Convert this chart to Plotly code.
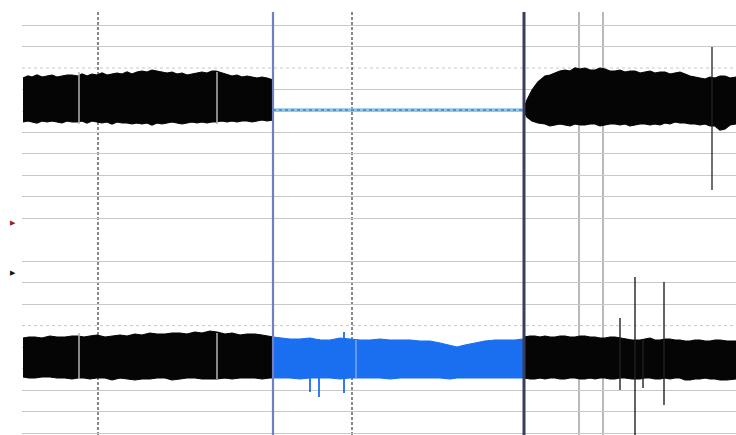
import plotly.graph_objects as go

# ---- time axis (s) and two-channel trace envelopes (amplitude units) ----
# Channel 1 (upper trace), pre-segment
c1_pre_t = [0.1, 0.6, 1.0, 1.5, 2.0, 2.5, 3.0, 3.5, 4.0, 4.5, 5.0, 5.6, 6.0, 6.5, 7.0, 7.5,
            8.0, 8.5, 9.0, 9.5, 10.0, 10.5, 11.0, 11.5, 12.0, 12.5, 13.0, 13.5, 14.0, 14.5,
            15.0, 15.5, 16.0, 16.5, 17.0, 17.5, 18.0, 18.5, 19.0, 19.4, 20.0, 20.5, 21.0,
            21.5, 22.0, 22.5, 23.0, 23.5, 24.0, 24.5, 25.1]
c1_pre_hi = [355, 357, 356, 358, 356, 357, 358, 356, 357, 358, 358, 357, 359, 357, 359, 358,
             360, 358, 359, 360, 359, 361, 359, 361, 362, 361, 363, 362, 361, 360,
             361, 359, 360, 358, 359, 360, 361, 360, 362, 362, 360, 358, 357,
             358, 356, 357, 356, 355, 356, 355, 353]
c1_pre_lo = [311, 312, 311, 310, 312, 311, 312, 311, 310, 312, 311, 311, 312, 310, 312, 311,
             310, 311, 309, 311, 310, 310, 309, 310, 309, 310, 308, 310, 309, 310,
             311, 310, 309, 310, 311, 310, 311, 310, 311, 311, 312, 311, 312,
             311, 312, 312, 311, 312, 313, 312, 313]

# Channel 1 flat (suppressed) segment
c1_mid_t = [25.1, 50.2]
c1_mid_v = [323, 323]

# Channel 1 post-segment
c1_post_t = [50.2, 50.5, 51.0, 51.6, 52.3, 52.8, 53.3, 53.8, 54.3, 54.8, 55.3, 55.8, 56.3,
             56.8, 57.3, 57.8, 58.3, 58.8, 59.3, 59.8, 60.3, 60.8, 61.3, 61.8, 62.3, 62.8,
             63.3, 63.8, 64.3, 64.8, 65.3, 65.8, 66.3, 66.8, 67.3, 67.8, 68.3, 68.8, 69.3,
             69.8, 70.3, 70.8, 71.4]
c1_post_hi = [325, 333, 343, 351, 357, 358, 360, 362, 363, 362, 365, 364, 365,
              363, 363, 365, 364, 362, 362, 363, 361, 362, 362, 360, 361, 362,
              360, 361, 361, 359, 360, 361, 359, 357, 356, 355, 354, 356, 355,
              357, 357, 355, 356]
c1_post_lo = [321, 316, 312, 310, 309, 307, 308, 309, 308, 307, 309, 308, 308,
              309, 309, 307, 308, 309, 309, 308, 309, 307, 308, 309, 309, 308,
              309, 308, 310, 309, 311, 310, 310, 309, 309, 308, 309, 307, 307,
              303, 304, 308, 309]

# Channel 2 (lower trace), pre-segment
c2_pre_t = [0.1, 0.7, 1.3, 2.0, 2.8, 3.5, 4.3, 5.0, 5.6, 6.2, 6.8, 7.5, 8.3, 9.0, 9.8,
            10.5, 11.3, 12.0, 12.8, 13.5, 14.3, 15.0, 15.8, 16.5, 17.3, 18.0, 18.8,
            19.5, 20.3, 21.0, 21.8, 22.5, 23.3, 24.0, 24.8, 25.1]
c2_pre_hi = [95, 96, 96, 95, 97, 96, 96, 97, 97, 96, 97, 98, 96, 97, 98,
             97, 99, 98, 100, 99, 99, 100, 100, 99, 101, 100, 102,
             101, 99, 100, 98, 99, 99, 98, 97, 96]
c2_pre_lo = [56, 55, 55, 56, 56, 55, 55, 54, 55, 55, 54, 55, 55, 53, 55,
             54, 53, 54, 54, 55, 55, 53, 54, 55, 55, 54, 54,
             54, 55, 54, 55, 55, 55, 54, 55, 55]

# Channel 2 highlighted segment
c2_mid_t = [25.1, 25.8, 26.8, 27.8, 28.8, 29.8, 30.8, 31.8, 32.8, 33.8, 34.8, 35.8, 36.8,
            37.8, 38.8, 39.8, 40.8, 41.8, 42.8, 43.5, 44.3, 45.3, 46.3, 47.3, 48.3, 49.3, 50.2]
c2_mid_hi = [96, 95, 94, 94, 95, 93, 93, 95, 94, 93, 93, 94, 93,
             93, 93, 92, 92, 90, 88, 86, 88, 90, 92, 93, 93, 93, 94]
c2_mid_lo = [55, 55, 55, 54, 55, 55, 55, 54, 55, 55, 55, 55, 54,
             55, 55, 55, 55, 55, 54, 55, 55, 55, 55, 55, 55, 55, 55]

# Channel 2 post-segment
c2_post_t = [50.2, 50.8, 51.3, 51.8, 52.3, 52.8, 53.3, 53.8, 54.3, 54.8, 55.3, 55.8, 56.3,
             56.8, 57.3, 57.8, 58.3, 58.8, 59.3, 59.8, 60.3, 61.0, 61.8, 62.3, 62.8, 63.3,
             63.8, 64.3, 64.8, 65.3, 65.8, 66.3, 66.8, 67.3, 67.8, 68.3, 68.8, 69.3, 69.8,
             70.5, 71.4]
c2_post_hi = [96, 97, 97, 96, 97, 96, 96, 97, 97, 96, 96, 97, 97,
              96, 96, 95, 95, 96, 96, 95, 94, 93, 93, 94, 95, 93,
              93, 94, 94, 93, 93, 92, 92, 93, 93, 92, 92, 93, 93,
              92, 92]
c2_post_lo = [55, 54, 54, 55, 54, 55, 55, 54, 54, 55, 55, 54, 54,
              55, 54, 55, 55, 54, 54, 55, 55, 54, 54, 55, 55, 54,
              54, 55, 54, 55, 55, 53, 53, 54, 54, 55, 54, 54, 53,
              53, 54]

# Transient spikes: time, low, high
c1_spike_t = [69.0]
c1_spike_lo = [243]
c1_spike_hi = [386]

c2_mid_spike_t = [28.8, 29.7, 32.2]
c2_mid_spike_lo = [41, 36, 40]
c2_mid_spike_hi = [95, 94, 101]

c2_post_spike_t = [59.8, 61.3, 62.1, 64.2]
c2_post_spike_lo = [43, -2, 45, 28]
c2_post_spike_hi = [115, 156, 93, 151]

# Event markers (time)
dashed_events = [7.6, 33.0]
segment_start = 25.1
segment_end = 50.2
thin_events = [55.7, 58.1]
dropout_times = [5.7, 19.5]
c2_dropout_times = [33.4]

# Horizontal reference lines
grid_levels = [0, 21.5, 43, 64.4, 85.9, 128.8, 150.3, 171.8, 214.7, 236.2,
               257.6, 279.1, 300.6, 322, 343.5, 386.4, 407.9]
dotted_levels = [107.4, 365]

# Channel labels on the left edge
chan_marker_y = [210, 160]
chan_marker_colors = ["#a01818", "#111111"]

BLACK = "#050505"
BLUE = "#1a6ef0"


def band(t, hi, lo, color):
    return go.Scatter(
        x=t + t[::-1], y=hi + lo[::-1], fill="toself", fillcolor=color,
        mode="lines", line=dict(color=color, width=1.2), hoverinfo="skip",
        showlegend=False,
    )


def spikes(t, lo, hi, color, width=1.4):
    xs, ys = [], []
    for ti, a, b in zip(t, lo, hi):
        xs += [ti, ti, None]
        ys += [a, b, None]
    return go.Scatter(x=xs, y=ys, mode="lines", line=dict(color=color, width=width),
                      hoverinfo="skip", showlegend=False)


fig = go.Figure()

fig.add_trace(band(c1_pre_t, c1_pre_hi, c1_pre_lo, BLACK))
fig.add_trace(band(c1_post_t, c1_post_hi, c1_post_lo, BLACK))
fig.add_trace(go.Scatter(x=c1_mid_t, y=c1_mid_v, mode="lines",
                         line=dict(color="#8cc4ea", width=3.5), showlegend=False))
fig.add_trace(go.Scatter(x=c1_mid_t, y=c1_mid_v, mode="lines",
                         line=dict(color="#2a5f9a", width=1.2, dash="dot"), showlegend=False))

fig.add_trace(band(c2_pre_t, c2_pre_hi, c2_pre_lo, BLACK))
fig.add_trace(band(c2_mid_t, c2_mid_hi, c2_mid_lo, BLUE))
fig.add_trace(band(c2_post_t, c2_post_hi, c2_post_lo, BLACK))

fig.add_trace(spikes(c1_spike_t, c1_spike_lo, c1_spike_hi, "#222222", 1.3))
fig.add_trace(spikes(c2_mid_spike_t, c2_mid_spike_lo, c2_mid_spike_hi, BLUE, 1.8))
fig.add_trace(spikes(c2_post_spike_t, c2_post_spike_lo, c2_post_spike_hi, "#222222", 1.4))

# Channel markers sit in the left margin
annotations = []
for y, c in zip(chan_marker_y, chan_marker_colors):
    annotations.append(dict(
        xref="paper", yref="y", x=-0.0126, y=y, text="\u25B6", showarrow=False,
        font=dict(size=7, color=c, family="DejaVu Sans"), xanchor="center", yanchor="middle",
    ))

shapes = []
top_y = 421
bottom_y = -2
for y in dotted_levels:
    shapes.append(dict(type="line", xref="paper", x0=0, x1=1, y0=y, y1=y, layer="below",
                       line=dict(color="#c8c8c8", width=1, dash="dot")))
for x in dashed_events:
    shapes.append(dict(type="line", x0=x, x1=x, y0=bottom_y, y1=top_y, layer="below",
                       line=dict(color="#4a4a4a", width=1.3, dash="3px,2px")))
for x in thin_events:
    shapes.append(dict(type="line", x0=x, x1=x, y0=bottom_y, y1=top_y, layer="below",
                       line=dict(color="#8a8a8a", width=1.2)))
for x in dropout_times:
    for lo, hi in ((c1_pre_lo, c1_pre_hi), (c2_pre_lo, c2_pre_hi)):
        shapes.append(dict(type="line", x0=x, x1=x, y0=min(lo) + 1, y1=max(hi) - 2,
                           layer="above", line=dict(color="#b4b4b4", width=1.5)))
for x in c2_dropout_times:
    shapes.append(dict(type="line", x0=x, x1=x, y0=min(c2_mid_lo) + 1, y1=max(c2_mid_hi) - 3,
                       layer="above", line=dict(color="#8fb8f5", width=1.2)))
shapes.append(dict(type="line", x0=segment_start, x1=segment_start, y0=bottom_y, y1=top_y,
                   layer="above", line=dict(color="#7080c0", width=2.2)))
shapes.append(dict(type="line", x0=segment_end, x1=segment_end, y0=bottom_y, y1=top_y,
                   layer="above", line=dict(color="#3a3d5c", width=3)))

fig.update_layout(
    width=736, height=435,
    margin=dict(l=22, r=0, t=0, b=0),
    paper_bgcolor="white", plot_bgcolor="white",
    shapes=shapes,
    annotations=annotations,
    xaxis=dict(range=[0, 71.4], showgrid=False, zeroline=False, showticklabels=False,
               ticks="", showline=False),
    yaxis=dict(range=[-2, 433], tickvals=grid_levels, showgrid=True, gridcolor="#c8c8c8",
               gridwidth=1, zeroline=False, showticklabels=False, ticks="", showline=False),
    showlegend=False,
)

fig.write_html("out.html")
